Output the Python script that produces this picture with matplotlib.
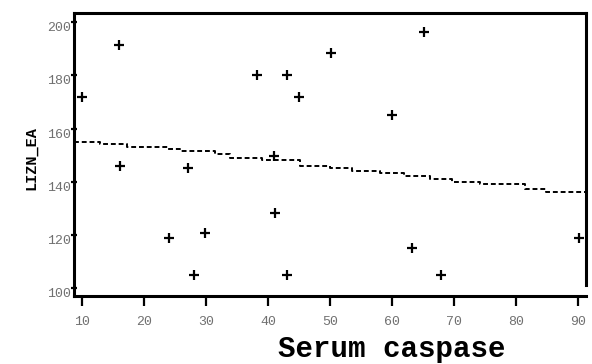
import matplotlib
matplotlib.use("Agg")
import matplotlib.pyplot as plt

# Scatter data (Serum caspase vs. y-value)
caspase = [10, 16, 38.2, 43.1, 45, 50.2, 41, 16.1, 27.1, 24.1, 29.8, 28.1, 41.2, 43.1,
           65.1, 60, 63.3, 67.9, 90.2]
values = [171.7, 191.3, 180.1, 180, 172, 188.2, 149.5, 146, 145, 118.8, 120.9, 105, 128.4,
          105, 196.1, 165.1, 115.2, 105, 118.8]

# Stepped dashed trend line
fit_x = [8.7, 12.9, 17.3, 23.9, 25.8, 31.5, 33.9, 39.0, 45.2, 50.0, 53.5, 58.1, 61.9,
         66.1, 69.7, 74.2, 81.5, 84.8, 91.3]
fit_y = [155.1, 154.2, 153.2, 152.2, 151.6, 150.3, 148.8, 148.2, 146.0, 145.1, 144.0,
         143.2, 142.2, 141.0, 140.0, 139.2, 137.3, 136.0, 135.0]

x_ticks = [10, 20, 30, 40, 50, 60, 70, 80, 90]
x_ticklabels = ["10", "20", "30", "40", "50", "60", "70", "80", "90"]
y_ticks = [100, 120, 140, 160, 180, 200]
y_ticklabels = ["100", "120", "140", "160", "180", "200"]

x_label = "Serum caspase"
y_label = "LIZN_EA"

fig = plt.figure(figsize=(5.92, 3.64), dpi=100)
ax = fig.add_axes([74 / 592, 68.3 / 364, (586 - 74) / 592, (295.7 - 13) / 364])

ax.step(fit_x, fit_y, where="post", color="black", lw=1.4, linestyle=(0, (2.5, 1.5)))
ax.plot(caspase, values, linestyle="none", marker="+", ms=7.5, mew=1.6, color="black")

ax.set_xlim(8.7, 91.3)
ax.set_ylim(97.2, 203.4)

for s in ["left", "top", "right", "bottom"]:
    ax.spines[s].set_linewidth(2.2)
    ax.spines[s].set_color("black")
ax.spines["right"].set_bounds(101.2, 203.4)

tick_font = dict(family="Liberation Mono", size=9.5, color="#707070")
ax.set_xticks(x_ticks)
ax.set_xticklabels(x_ticklabels, **tick_font)
ax.set_yticks(y_ticks)
ax.set_yticklabels(y_ticklabels, **tick_font)
for lab in ax.get_yticklabels():
    lab.set_va("top")

ax.tick_params(axis="x", direction="out", length=7, width=1.6, pad=7.5, color="black")
ax.tick_params(axis="y", direction="inout", length=4.5, width=1.6, pad=0, color="black")

fig.text(392 / 592, (364 - 357) / 364, x_label, family="Liberation Mono",
         weight="bold", size=21, ha="center", va="baseline")
fig.text(31 / 592, 1 - 158 / 364, y_label, family="Liberation Mono", weight="bold",
         size=11, rotation=90, ha="center", va="center")

fig.savefig("out.png", dpi=100)
